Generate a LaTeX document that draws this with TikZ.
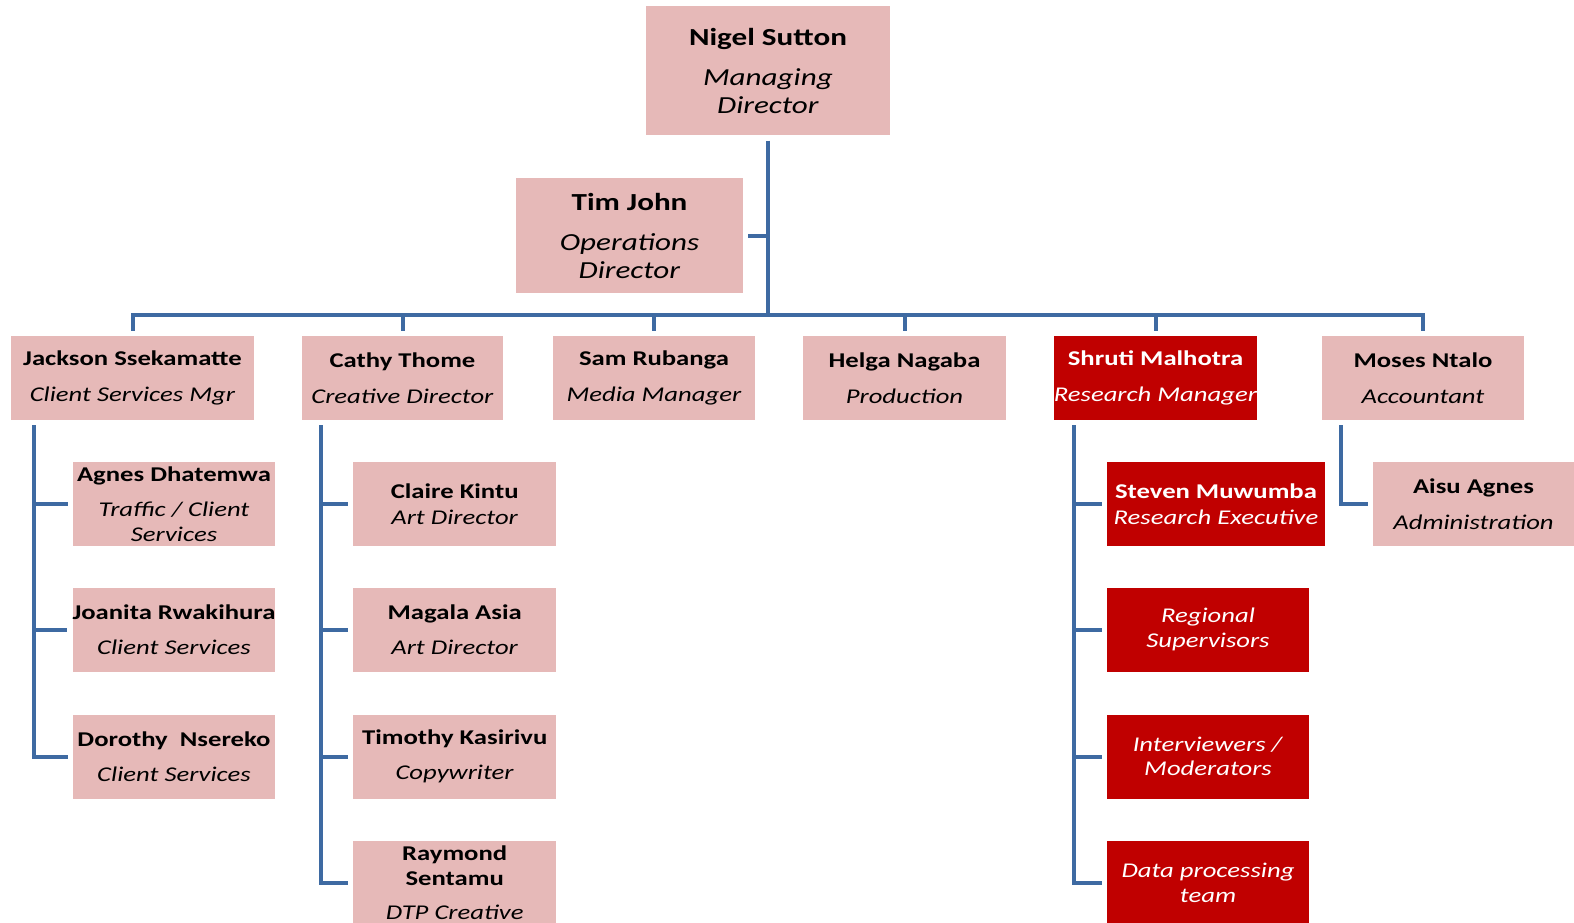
\documentclass[tikz,border=0pt]{standalone}
\usepackage{fontspec}
\setmainfont{Carlito}[FakeStretch=1.27]
\usetikzlibrary{calc}
\definecolor{pinkc}{HTML}{E6B9B8}
\definecolor{redc}{HTML}{C00000}
\definecolor{linec}{RGB}{62,106,162}
\begin{document}
\begin{tikzpicture}[x=1pt,y=-1pt,
  box/.style={fill=pinkc, draw=none, inner sep=0pt, align=center, text=black,
    minimum height=84, font=\fontsize{21}{24.5}\selectfont},
  redbox/.style={box, fill=redc, text=white},
  bigbox/.style={box, font=\fontsize{24.5}{28}\selectfont},
  conn/.style={draw=linec, line width=4pt},
]
\useasboundingbox (0,0) rectangle (1574,923);

% top
\node[bigbox, minimum width=244, minimum height=129] (nigel) at (768,70.5)
  {\textbf{Nigel Sutton}\\[12pt]\textit{Managing}\\\textit{Director}};
\node[bigbox, minimum width=227, minimum height=115] (tim) at (629.5,235.5)
  {\textbf{Tim John}\\[12pt]\textit{Operations}\\\textit{Director}};

% first row
\node[box, minimum width=243] (jackson) at (132.5,378) {\textbf{Jackson Ssekamatte}\\[11pt]\textit{Client Services Mgr}};
\node[box, minimum width=201] (cathy) at (402.5,378) {\textbf{Cathy Thome}\\[11pt]\textit{Creative Director}};
\node[box, minimum width=202] (sam) at (654,378) {\textbf{Sam Rubanga}\\[11pt]\textit{Media Manager}};
\node[box, minimum width=203] (helga) at (904.5,378) {\textbf{Helga Nagaba}\\[11pt]\textit{Production}};
\node[redbox, minimum width=203] (shruti) at (1155.5,378) {\textbf{Shruti Malhotra}\\[11pt]\textit{Research Manager}};
\node[box, minimum width=202] (moses) at (1423,378) {\textbf{Moses Ntalo}\\[11pt]\textit{Accountant}};

% Jackson's team
\node[box, minimum width=202] (agnes) at (174,504) {\textbf{Agnes Dhatemwa}\\[11pt]\textit{Traffic / Client}\\\textit{Services}};
\node[box, minimum width=202] (joanita) at (174,629.5) {\textbf{Joanita Rwakihura}\\[11pt]\textit{Client Services}};
\node[box, minimum width=202] (dorothy) at (174,756.5) {\textbf{Dorothy~ Nsereko}\\[11pt]\textit{Client Services}};

% Cathy's team
\node[box, minimum width=203] (claire) at (454.7,504) {\textbf{Claire Kintu}\\[1pt]\textit{Art Director}};
\node[box, minimum width=203] (magala) at (454.7,629.5) {\textbf{Magala Asia}\\[11pt]\textit{Art Director}};
\node[box, minimum width=203] (timothy) at (454.7,756.5) {\textbf{Timothy Kasirivu}\\[11pt]\textit{Copywriter}};
\node[box, minimum width=203] (raymond) at (454.7,883) {\textbf{Raymond}\\\textbf{Sentamu}\\[10pt]\textit{DTP Creative}};

% Shruti's team
\node[redbox, minimum width=218] (steven) at (1216,504) {\textbf{Steven Muwumba}\\[1pt]\textit{Research Executive}};
\node[redbox, minimum width=202] (regional) at (1208,629.5) {\textit{Regional}\\\textit{Supervisors}};
\node[redbox, minimum width=202] (interv) at (1208,756.5) {\textit{Interviewers /}\\\textit{Moderators}};
\node[redbox, minimum width=202] (data) at (1208,883) {\textit{Data processing}\\\textit{team}};

% Moses's team
\node[box, minimum width=201] (aisu) at (1473.5,504) {\textbf{Aisu Agnes}\\[11pt]\textit{Administration}};

% connectors
\coordinate (bus) at (768,315);
\draw[conn] ([yshift=-5.5]nigel.south) -- (bus);
\draw[conn] ([xshift=5]tim.east) -- (tim.east -| bus);
\draw[conn] ([yshift=5]jackson.north) |- (bus) -| ([yshift=5]moses.north);
\foreach \n in {cathy,sam,helga,shruti}
  \draw[conn] ([yshift=5]\n.north) -- (\n.north |- bus);

\coordinate (jl) at ([xshift=23,yshift=-5]jackson.south west);
\draw[conn] (jl) |- ([xshift=-5]dorothy.west);
\foreach \n in {agnes,joanita}
  \draw[conn] (\n.west -| jl) -- ([xshift=-5]\n.west);

\coordinate (cl) at ([xshift=19,yshift=-5]cathy.south west);
\draw[conn] (cl) |- ([xshift=-5]raymond.west);
\foreach \n in {claire,magala,timothy}
  \draw[conn] (\n.west -| cl) -- ([xshift=-5]\n.west);

\coordinate (sl) at ([xshift=20,yshift=-5]shruti.south west);
\draw[conn] (sl) |- ([xshift=-5]data.west);
\foreach \n in {steven,regional,interv}
  \draw[conn] (\n.west -| sl) -- ([xshift=-5]\n.west);

\coordinate (ml) at ([xshift=19,yshift=-5]moses.south west);
\draw[conn] (ml) |- ([xshift=-5]aisu.west);
\end{tikzpicture}
\end{document}
